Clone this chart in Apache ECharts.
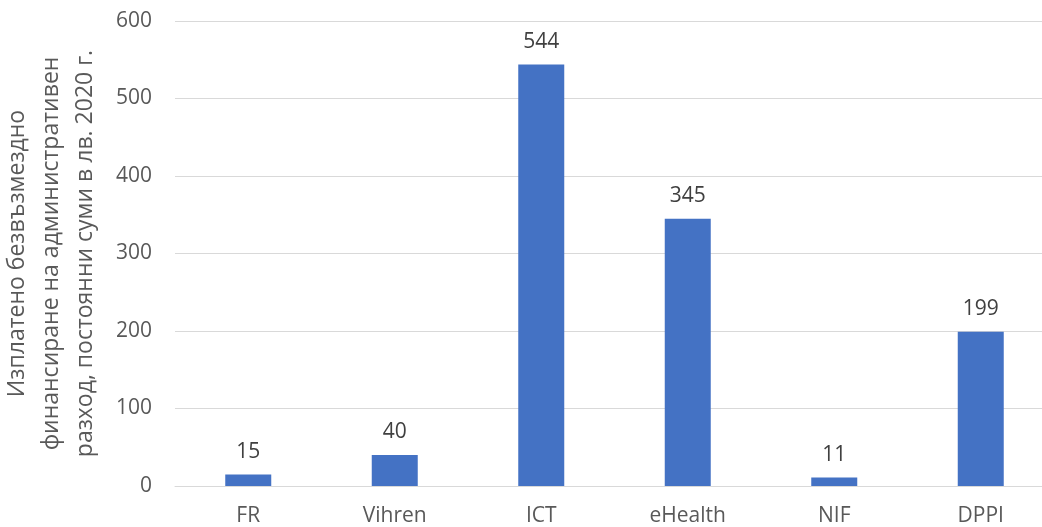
<!DOCTYPE html>
<html>
<head>
<meta charset="utf-8">
<script src="https://cdn.jsdelivr.net/npm/echarts@6/dist/echarts.min.js"></script>
<style>
html,body{margin:0;padding:0;background:#fff;}
#chart{width:1042px;height:527px;}
</style>
</head>
<body>
<div id="chart"></div>
<script>
const categories = ['FR', 'Vihren', 'ICT', 'eHealth', 'NIF', 'DPPI'];
const values = [15, 40, 544, 345, 11, 199];
const yTicks = [0, 100, 200, 300, 400, 500, 600];
const yTitle = 'Изплатено безвъзмездно\nфинансиране на административен\nразход, постоянни суми в лв. 2020 г.';

const FONT = '"Open Sans", "DejaVu Sans", sans-serif';
const chart = echarts.init(document.getElementById('chart'), null, {renderer: 'canvas'});
chart.setOption({
  animation: false,
  backgroundColor: '#ffffff',
  grid: {left: 175, top: 21, width: 879, height: 465, containLabel: false, outerBoundsMode: 'none'},
  xAxis: {
    type: 'category',
    data: categories,
    axisLine: {show: true, lineStyle: {color: '#D9D9D9', width: 1}},
    axisTick: {show: false},
    axisLabel: {color: '#595959', fontSize: 21, fontFamily: FONT, margin: 20}
  },
  yAxis: {
    type: 'value',
    min: yTicks[0],
    max: yTicks[yTicks.length - 1],
    interval: 100,
    axisLine: {show: false},
    axisTick: {show: false},
    splitLine: {lineStyle: {color: '#D9D9D9', width: 1}},
    axisLabel: {color: '#595959', fontSize: 21, fontFamily: FONT, margin: 23},
    name: yTitle,
    nameLocation: 'middle',
    nameRotate: 90,
    nameGap: 73,
    nameTextStyle: {color: '#595959', fontSize: 23, fontFamily: FONT, lineHeight: 34, align: 'center'}
  },
  series: [{
    type: 'bar',
    data: values,
    barWidth: 46,
    itemStyle: {color: '#4472C4'},
    label: {show: true, position: 'top', distance: 12, color: '#404040', fontSize: 21, fontFamily: FONT}
  }]
});
</script>
</body>
</html>
